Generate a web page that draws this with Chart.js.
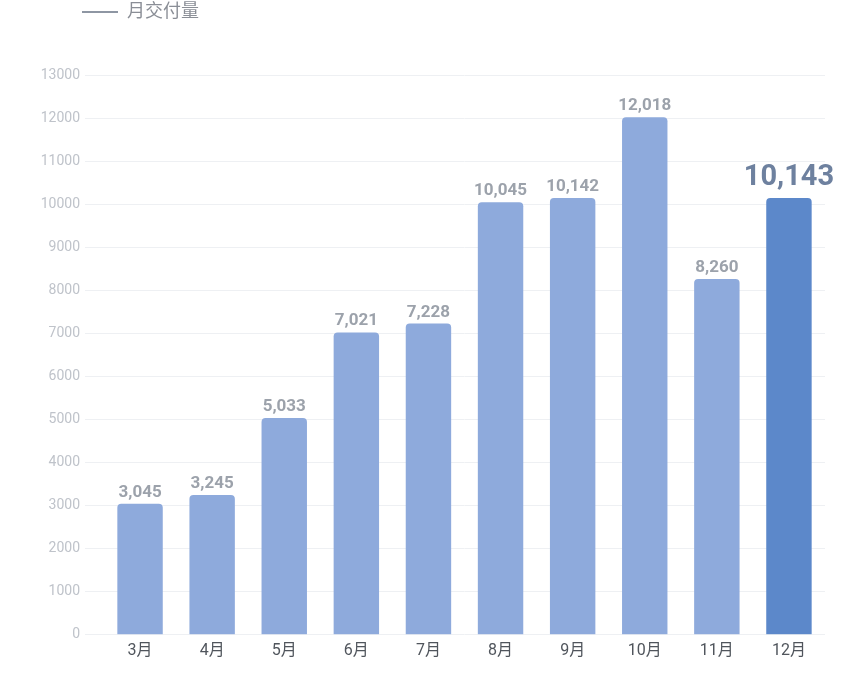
<!DOCTYPE html>
<html>
<head>
<meta charset="utf-8">
<script src="https://cdn.jsdelivr.net/npm/chart.js@4"></script>
<style>
  html, body { margin: 0; padding: 0; background: #ffffff; }
  #wrap { width: 850px; height: 680px; position: relative; }
</style>
</head>
<body>
<div id="wrap"><canvas id="c" width="850" height="680"></canvas></div>
<script>
const months = ['3月', '4月', '5月', '6月', '7月', '8月', '9月', '10月', '11月', '12月'];
const deliveries = [3045, 3245, 5033, 7021, 7228, 10045, 10142, 12018, 8260, 10143];
const seriesName = '月交付量';
const yMin = 0;
const yMax = 13000;
const yStep = 1000;

const FONT = 'Roboto, "Noto Sans CJK SC", sans-serif';
const barColors = deliveries.map((v, i) => i === deliveries.length - 1 ? '#5c88ca' : '#8eaadc');

const valueLabels = {
  id: 'valueLabels',
  afterDatasetsDraw(chart) {
    const ctx = chart.ctx;
    const meta = chart.getDatasetMeta(0);
    const fmt = new Intl.NumberFormat('en-US');
    meta.data.forEach((bar, i) => {
      const last = i === meta.data.length - 1;
      ctx.save();
      ctx.font = (last ? 'bold 29px ' : 'bold 17px ') + FONT;
      ctx.fillStyle = last ? '#6e819f' : '#9ca2ab';
      ctx.textAlign = 'center';
      ctx.textBaseline = 'alphabetic';
      ctx.fillText(fmt.format(chart.data.datasets[0].data[i]), bar.x, bar.y - (last ? 13 : 7));
      ctx.restore();
    });
  }
};

const legendTweak = {
  id: 'legendTweak',
  beforeInit(chart) {
    const lg = chart.legend;
    if (!lg) return;
    const origFit = lg.fit;
    lg.fit = function () {
      origFit.call(this);
      this.height = 75;
    };
  },
  afterLayout(chart) {
    const lg = chart.legend;
    if (!lg) return;
    const dx = 82 - (lg.left + lg.options.labels.padding);
    lg.left += dx;
    lg.right += dx;
  }
};

new Chart(document.getElementById('c'), {
  type: 'bar',
  data: {
    labels: months,
    datasets: [{
      label: seriesName,
      data: deliveries,
      backgroundColor: barColors,
      borderRadius: { topLeft: 4, topRight: 4, bottomLeft: 0, bottomRight: 0 },
      borderSkipped: false,
      barPercentage: 0.63,
      categoryPercentage: 1.0
    }]
  },
  options: {
    responsive: false,
    animation: false,
    layout: { padding: { left: 0, right: 25, top: 0, bottom: 12 } },
    plugins: {
      legend: {
        display: true,
        position: 'top',
        align: 'start',
        labels: {
          padding: 3,
          boxWidth: 36,
          boxHeight: 2,
          color: '#8a8e96',
          font: { family: FONT, size: 18 },
          generateLabels() {
            return [{
              text: seriesName,
              fillStyle: '#8e96a3',
              strokeStyle: '#8e96a3',
              fontColor: '#8a8e96',
              lineWidth: 0,
              hidden: false,
              datasetIndex: 0
            }];
          }
        }
      },
      tooltip: { enabled: false }
    },
    scales: {
      x: {
        grid: { display: false, drawTicks: false },
        border: { display: false },
        ticks: {
          color: '#50555c',
          padding: 7,
          font: { family: FONT, size: 16 }
        }
      },
      y: {
        min: yMin,
        max: yMax,
        afterFit(scale) { scale.width = 104; },
        border: { display: false },
        grid: {
          color: '#eef0f3',
          lineWidth: 1,
          drawTicks: true,
          tickLength: 19,
          tickColor: '#eef0f3'
        },
        ticks: {
          stepSize: yStep,
          padding: 5,
          color: '#bfc3ca',
          font: { family: FONT, size: 14 },
          callback: (v) => String(v)
        }
      }
    }
  },
  plugins: [legendTweak, valueLabels]
});
</script>
</body>
</html>
